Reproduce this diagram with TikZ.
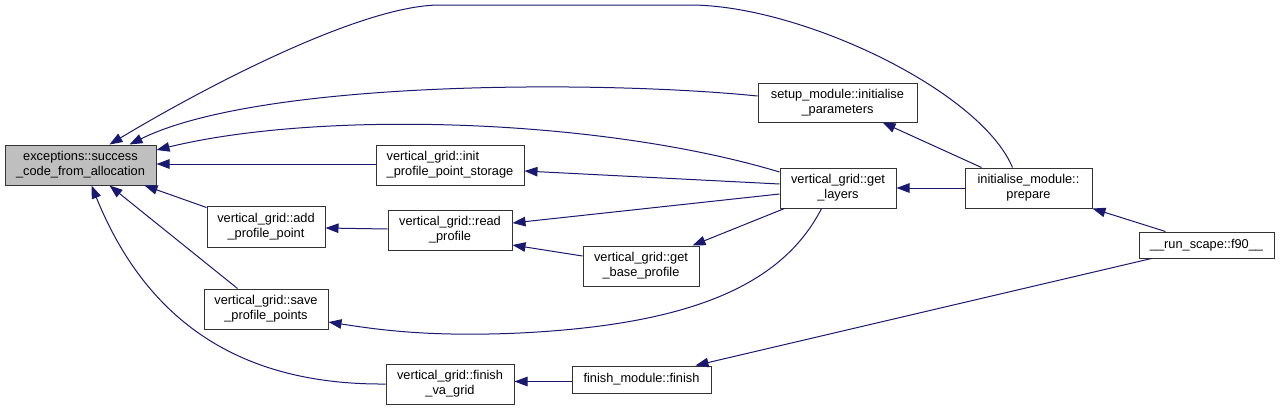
\documentclass[tikz,border=0pt]{standalone}
\usepackage{fontspec}
\setmainfont{Liberation Sans}
\usetikzlibrary{arrows.meta,calc}
\definecolor{edgec}{HTML}{191970}
\definecolor{rootfill}{HTML}{BFBFBF}
\definecolor{boxline}{HTML}{333333}
\begin{document}
\begin{tikzpicture}[x=1pt,y=-1pt,
  box/.style={draw=boxline, line width=1pt, fill=white, inner sep=0pt, align=center,
              font=\fontsize{12.8}{15}\selectfont},
  root/.style={box, fill=rootfill},
  call/.style={draw=edgec, line width=1pt, -{Triangle[length=13pt,width=9.5pt]}}]
\useasboundingbox[fill=white] (0,0) rectangle (1280,410);

% nodes
\node[root, minimum width=151pt, minimum height=40pt] (exc) at (80.5,165)
  {exceptions::success\\\_code\_from\_allocation};
\node[box, minimum width=159pt, minimum height=39pt] (setup) at (837.5,102.5)
  {setup\_module::initialise\\\_parameters};
\node[box, align=left, minimum width=148pt, minimum height=40pt] (init) at (450,165)
  {vertical\_grid::init\\\_profile\_point\_storage};
\node[box, minimum width=116pt, minimum height=40pt] (layers) at (838,188)
  {vertical\_grid::get\\\_layers};
\node[box, minimum width=127pt, minimum height=40pt] (prepare) at (1028.5,188)
  {initialise\_module::\\prepare};
\node[box, minimum width=118pt, minimum height=41pt] (add) at (266,226.5)
  {vertical\_grid::add\\\_profile\_point};
\node[box, minimum width=124pt, minimum height=40pt] (read) at (450,230)
  {vertical\_grid::read\\\_profile};
\node[box, minimum width=116pt, minimum height=40pt] (base) at (641,266)
  {vertical\_grid::get\\\_base\_profile};
\node[box, minimum width=124pt, minimum height=40pt] (save) at (266,309)
  {vertical\_grid::save\\\_profile\_points};
\node[box, minimum width=128pt, minimum height=40pt] (finva) at (450,384)
  {vertical\_grid::finish\\\_va\_grid};
\node[box, minimum width=139pt, minimum height=27pt] (finish) at (641.5,379.5)
  {finish\_module::finish};
\node[box, minimum width=135pt, minimum height=26pt] (run) at (1206.5,245)
  {\_\_run\_scape::f90\_\_};

% connectors
\draw[call] ($(prepare.north west)+(48,0)$) .. controls (980,90) and (800,5) .. (690,5)
  -- (440,5) .. controls (360,5) and (200,90) .. ($(exc.north west)+(105,0)$);
\draw[call] ($(setup.west)+(0,-6.5)$) .. controls (600,80) and (260,80) .. ($(exc.north west)+(125,0)$);
\draw[call] ($(layers.west)+(0,-16)$) .. controls (600,118) and (320,110) .. ($(exc.east)+(0,-15)$);
\draw[call] ($(init.west)+(0,-1)$) -- ($(exc.east)+(0,-1)$);
\draw[call] ($(add.north west)+(0,2)$) -- ($(exc.south west)+(140,0)$);
\draw[call] ($(save.north west)+(34,0)$) -- ($(exc.south west)+(105,0)$);
\draw[call] (finva.west) .. controls (250,385) and (150,330) .. ($(exc.south west)+(87,0)$);
\draw[call] ($(layers.west)+(0,-4)$) -- ($(init.east)+(0,6)$);
\draw[call] ($(layers.west)+(0,6)$) -- ($(read.east)+(0,-7)$);
\draw[call] ($(layers.south west)+(5,0)$) -- ($(base.north east)+(-7,0)$);
\draw[call] ($(layers.south west)+(42,0)$) .. controls (780,290) and (680,325) .. (520,333)
  .. controls (430,337) and (380,330) .. ($(save.east)+(0,13)$);
\draw[call] ($(read.west)+(0,-1)$) -- ($(add.east)+(0,1.5)$);
\draw[call] ($(base.west)+(0,-10)$) -- ($(read.east)+(0,15)$);
\draw[call] ($(prepare.north west)+(17,0)$) -- ($(setup.south west)+(125,0)$);
\draw[call] (prepare.west) -- (layers.east);
\draw[call] ($(run.north west)+(27,0)$) -- (prepare.south east);
\draw[call] ($(run.south west)+(13,0)$) -- ($(finish.north east)+(-16,0)$);
\draw[call] ($(finish.west)+(0,2)$) -- ($(finva.east)+(0,-2.5)$);
\end{tikzpicture}
\end{document}
